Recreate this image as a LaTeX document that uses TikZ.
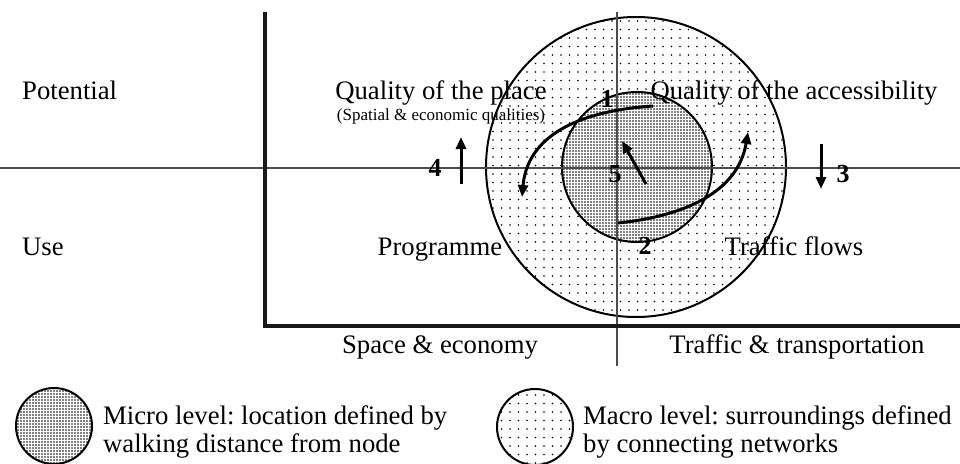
\documentclass[tikz,border=0pt]{standalone}
\usepackage{fontspec}
\setmainfont{Liberation Serif}
\usetikzlibrary{arrows.meta,patterns.meta}
\frenchspacing
\begin{document}
\begin{tikzpicture}[x=1pt,y=-1pt,
  lbl/.style={font=\fontsize{26.7}{30}\selectfont, inner sep=0pt},
  smalllbl/.style={font=\fontsize{17}{20}\selectfont, inner sep=0pt},
  numlbl/.style={font=\fontsize{26}{30}\selectfont\bfseries, inner sep=0pt},
  thinline/.style={line width=1.4pt, draw=black!70},
  axisline/.style={line width=3.5pt, draw=black!90},
  ring/.style={line width=2pt, draw=black},
  sparse/.style={pattern={Dots[distance=8.5pt, radius=0.9pt]}},
  dense/.style={pattern={Dots[distance=3pt, radius=0.8pt]}},
  flow/.style={line width=3pt, -{Triangle[length=12pt, width=10pt]}},
]
\useasboundingbox[fill=white] (0,0) rectangle (960,463);

% macro and micro rings
\draw[ring, sparse] (636,167) circle[radius=150];
\fill[white] (637,167) circle[radius=75];
\draw[ring, dense] (637,167) circle[radius=75];

% axes
\draw[thinline] (0,168) -- (960,168);
\draw[thinline] (617,12) -- (617,366);
\draw[axisline] (265,12) -- (265,326) -- (960,326);

% row headings
\node[lbl, anchor=base west] (pot) at (22,99) {Potential};
\node[lbl, anchor=base west] (use) at (22,255) {Use};

% quadrant labels
\node[lbl, anchor=base] (qplace) at (441,99) {Quality of the place};
\node[smalllbl, anchor=base] (qsub) at (441,120) {(Spatial \& economic qualities)};
\node[lbl, anchor=base] (qacc) at (794,99) {Quality of the accessibility};
\node[lbl, anchor=base] (prog) at (440,255) {Programme};
\node[lbl, anchor=base] (tflow) at (794,255) {Traffic flows};

% column headings
\node[lbl, anchor=base] (space) at (440,353) {Space \& economy};
\node[lbl, anchor=base] (traffic) at (797,353) {Traffic \& transportation};

% numbered interactions
\node[numlbl, anchor=base] (n1) at (607,107) {1};
\node[numlbl, anchor=base] (n2) at (645,254) {2};
\node[numlbl, anchor=base] (n3) at (843,182) {3};
\node[numlbl, anchor=base] (n4) at (435,176) {4};
\node[numlbl, anchor=base] (n5) at (615,182) {5};

\coordinate (c1s) at (653,106);
\coordinate (c1e) at (522,197);
\coordinate (c2s) at (618,223);
\coordinate (c2e) at (748,132);
\coordinate (a3s) at (821,144);
\coordinate (a3e) at (821,189);
\coordinate (a4s) at (461,184);
\coordinate (a4e) at (461,137);
\coordinate (a5s) at (646,184);
\coordinate (a5e) at (622,141);

\draw[flow] (c1s) .. controls (590,110) and (528,130) .. (c1e);
\draw[flow] (c2s) .. controls (685,216) and (738,192) .. (c2e);
\draw[flow] (a3s) -- (a3e);
\draw[flow] (a4s) -- (a4e);
\draw[flow] (a5s) -- (a5e);

% legend
\fill[white] (54,426) circle[radius=38];
\draw[ring, dense] (54,426) circle[radius=38];
\node[lbl, anchor=base west] (microa) at (103,424) {Micro level: location defined by};
\node[lbl, anchor=base west] (microb) at (103,452) {walking distance from node};
\draw[ring, sparse] (535,427) circle[radius=38];
\node[lbl, anchor=base west] (macroa) at (583,424) {Macro level: surroundings defined};
\node[lbl, anchor=base west] (macrob) at (583,452) {by connecting networks};
\end{tikzpicture}
\end{document}
